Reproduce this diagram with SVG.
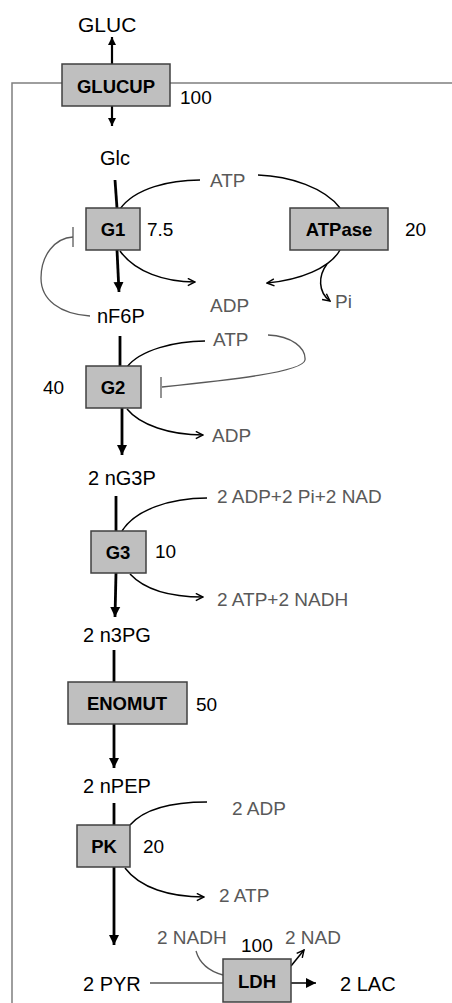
<svg xmlns="http://www.w3.org/2000/svg" width="452" height="1003" viewBox="0 0 452 1003">
<style>
text{font-family:"Liberation Sans",Arial,sans-serif;}
.met{font-size:20px;fill:#000;}
.co{font-size:19px;fill:#595959;}
.num{font-size:19px;fill:#000;}
.lbl{font-size:18.5px;font-weight:bold;fill:#000;text-anchor:middle;}
.box{fill:#bfbfbf;stroke:#404040;stroke-width:1.5;}
.thick{stroke:#000;stroke-width:2.8;fill:none;}
.thin{stroke:#000;stroke-width:1.5;fill:none;}
.gray{stroke:#595959;stroke-width:1.3;fill:none;}
.border{stroke:#7f7f7f;stroke-width:1.5;fill:none;}
</style>
<defs>
<marker id="tri" viewBox="0 0 10 10" refX="10" refY="5" markerWidth="10" markerHeight="11" markerUnits="userSpaceOnUse" orient="auto">
<path d="M0,0 L10,5 L0,10 z" fill="#000"/>
</marker>
<marker id="trismall" viewBox="0 0 10 10" refX="10" refY="5" markerWidth="8" markerHeight="8" markerUnits="userSpaceOnUse" orient="auto">
<path d="M0,0 L10,5 L0,10 z" fill="#000"/>
</marker>
<marker id="chev" viewBox="0 0 10 10" refX="9" refY="5" markerWidth="9" markerHeight="9" markerUnits="userSpaceOnUse" orient="auto">
<path d="M1,1 L9,5 L1,9" fill="none" stroke="#000" stroke-width="1.6"/>
</marker>
</defs>

<g id="border">
<path class="border" d="M12,1003 L12,83 L452,83"/>
</g>

<g id="connectors">
<path class="thick" d="M112,64 L112,37" marker-end="url(#trismall)" style="stroke-width:2.2"/>
<path class="thick" d="M112,106 L112,126" marker-end="url(#trismall)" style="stroke-width:2.2"/>
<path class="thick" d="M115,180 L117,208"/>
<path class="thin" d="M120,209 C135,188 170,180 200,180"/>
<path class="thin" d="M258,175 C290,176 325,188 340,208"/>
<path class="thick" d="M117,250 L119,292" marker-end="url(#tri)"/>
<path class="thin" d="M120,251 C135,272 165,282 195,282" marker-end="url(#chev)"/>
<path class="thin" d="M340,250 C330,268 300,280 267,283" marker-end="url(#chev)"/>
<path class="thin" d="M327,264 C318,276 318,292 330,301" marker-end="url(#chev)"/>
<path class="gray" d="M90,316 C60,314 41,300 41,278 C41,255 55,238 73,237"/>
<path class="gray" d="M73,227 L73,247"/>
<path class="thick" d="M120,336 L120,366"/>
<path class="thin" d="M127,367 C140,350 175,341 205,341"/>
<path class="gray" d="M268,335 C292,336 306,348 305,360 C303,372 230,380 162,387"/>
<path class="gray" d="M161,377 L161,398"/>
<path class="thick" d="M122,408 L122,455" marker-end="url(#tri)"/>
<path class="thin" d="M127,409 C140,425 170,435 203,435" marker-end="url(#chev)"/>
<path class="thick" d="M116,496 L116,531"/>
<path class="thin" d="M122,531 C135,510 170,498 207,498"/>
<path class="thick" d="M116,573 L115,617" marker-end="url(#tri)"/>
<path class="thin" d="M130,574 C145,590 170,597 203,597" marker-end="url(#chev)"/>
<path class="thick" d="M114,650 L114,682"/>
<path class="thick" d="M114,724 L114,768" marker-end="url(#tri)"/>
<path class="thick" d="M114,803 L114,825"/>
<path class="thin" d="M130,825 C145,808 175,802 207,802"/>
<path class="thick" d="M114,867 L114,945" marker-end="url(#tri)"/>
<path class="thin" d="M125,868 C140,888 170,897 204,897" marker-end="url(#chev)"/>
<path class="gray" d="M150,983 L223,983"/>
<path class="gray" d="M196,951 C200,965 212,972 223,975"/>
<path class="thin" d="M291,983 L316,983" marker-end="url(#tri)"/>
<path class="thin" d="M291,966 L304,950" marker-end="url(#chev)"/>
</g>

<g id="GLUCUP">
<rect class="box" x="62" y="64" width="108" height="42"/>
<text class="lbl" x="116" y="93">GLUCUP</text>
<text class="num" x="180" y="104">100</text>
</g>
<g id="G1">
<rect class="box" x="86" y="208" width="54" height="42"/>
<text class="lbl" x="113" y="236">G1</text>
<text class="num" x="147" y="236">7.5</text>
</g>
<g id="ATPase">
<rect class="box" x="290" y="208" width="98" height="42"/>
<text class="lbl" x="339" y="236">ATPase</text>
<text class="num" x="405" y="236">20</text>
</g>
<g id="G2">
<rect class="box" x="86" y="366" width="55" height="42"/>
<text class="lbl" x="113" y="394">G2</text>
<text class="num" x="43" y="394">40</text>
</g>
<g id="G3">
<rect class="box" x="91" y="531" width="55" height="42"/>
<text class="lbl" x="118" y="559">G3</text>
<text class="num" x="155" y="558">10</text>
</g>
<g id="ENOMUT">
<rect class="box" x="68" y="682" width="119" height="42"/>
<text class="lbl" x="127" y="710">ENOMUT</text>
<text class="num" x="196" y="711">50</text>
</g>
<g id="PK">
<rect class="box" x="77" y="825" width="53" height="42"/>
<text class="lbl" x="104" y="853">PK</text>
<text class="num" x="143" y="853">20</text>
</g>
<g id="LDH">
<rect class="box" x="223" y="959" width="68" height="43"/>
<text class="lbl" x="257" y="988">LDH</text>
<text class="num" x="241" y="952">100</text>
</g>

<g id="metabolites">
<text class="met" x="78" y="32" style="font-size:21px">GLUC</text>
<text class="met" x="100" y="165">Glc</text>
<text class="met" x="97" y="323">nF6P</text>
<text class="met" x="88" y="485">2 nG3P</text>
<text class="met" x="83" y="642">2 n3PG</text>
<text class="met" x="83" y="793">2 nPEP</text>
<text class="met" x="83" y="991">2 PYR</text>
<text class="met" x="340" y="991">2 LAC</text>
</g>
<g id="cofactors">
<text class="co" x="210" y="187">ATP</text>
<text class="co" x="210" y="312">ADP</text>
<text class="co" x="335" y="308">Pi</text>
<text class="co" x="213" y="346">ATP</text>
<text class="co" x="212" y="442">ADP</text>
<text class="co" x="217" y="503">2 ADP+2 Pi+2 NAD</text>
<text class="co" x="217" y="606">2 ATP+2 NADH</text>
<text class="co" x="232" y="815">2 ADP</text>
<text class="co" x="219" y="902">2 ATP</text>
<text class="co" x="157" y="944">2 NADH</text>
<text class="co" x="285" y="944">2 NAD</text>
</g>
</svg>
